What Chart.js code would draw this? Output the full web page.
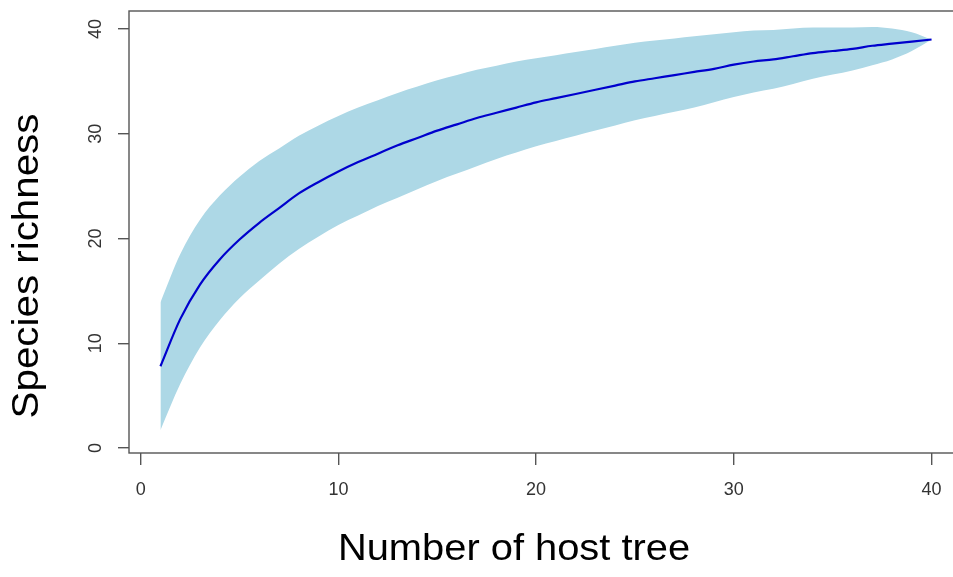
<!DOCTYPE html>
<html>
<head>
<meta charset="utf-8">
<script src="https://cdn.jsdelivr.net/npm/chart.js@4/dist/chart.umd.min.js"></script>
<style>
  html, body { margin: 0; padding: 0; background: #ffffff; overflow: hidden; }
  #wrap { width: 970px; height: 577px; }
</style>
</head>
<body>
<div id="wrap"><canvas id="c" width="970" height="577"></canvas></div>
<script>
// ---- data ----
const hostTrees = [1,2,3,4,5,6,7,8,9,10,11,12,13,14,15,16,17,18,19,20,21,22,23,24,25,26,27,28,29,30,31,32,33,34,35,36,37,38,39,40];
const meanRichness = [7.8,12.3,15.6,18.0,19.9,21.5,22.9,24.3,25.4,26.4,27.3,28.1,28.9,29.6,30.3,30.9,31.5,32.0,32.5,33.0,33.4,33.8,34.2,34.6,35.0,35.3,35.6,35.9,36.2,36.6,36.9,37.1,37.4,37.7,37.9,38.1,38.4,38.6,38.8,39.0];
const upperRichness = [13.9,18.5,21.8,24.1,25.9,27.4,28.6,29.8,30.8,31.7,32.5,33.2,33.9,34.5,35.1,35.6,36.1,36.5,36.9,37.2,37.5,37.8,38.1,38.4,38.7,38.9,39.1,39.3,39.5,39.7,39.85,39.9,40.05,40.15,40.15,40.15,40.2,40.05,39.7,39.0];
const lowerRichness = [1.7,6.1,9.6,12.2,14.3,16.0,17.6,19.0,20.2,21.3,22.2,23.1,23.9,24.7,25.5,26.2,26.9,27.6,28.2,28.8,29.3,29.8,30.3,30.8,31.3,31.7,32.1,32.5,33.0,33.5,33.95,34.3,34.75,35.25,35.65,36.05,36.55,37.1,37.9,39.0];
const xTickValues = [0,10,20,30,40];
const yTickValues = [0,10,20,30,40];
const xTitle = 'Number of host tree';
const yTitle = 'Species richness';

// ---- styles ----
const FONT = '"Liberation Sans", Arial, Helvetica, sans-serif';
const AXIS_COLOR = '#555555';
const TICK_TEXT = '#333333';

const toXY = arr => hostTrees.map((x, i) => ({ x: x, y: arr[i] }));

const framePlugin = {
  id: 'frame',
  afterDraw(chart) {
    const { ctx, chartArea: a, scales } = chart;
    const y = scales.y;
    ctx.save();
    ctx.strokeStyle = AXIS_COLOR;
    ctx.lineWidth = 1.4;
    ctx.strokeRect(a.left, a.top, a.right - a.left, a.bottom - a.top);

    // rotated y tick labels (R style)
    ctx.fillStyle = TICK_TEXT;
    ctx.font = '18px ' + FONT;
    ctx.textAlign = 'center';
    ctx.textBaseline = 'middle';
    yTickValues.forEach(v => {
      const py = y.getPixelForValue(v);
      ctx.save();
      ctx.translate(a.left - 33, py);
      ctx.rotate(-Math.PI / 2);
      ctx.fillText(String(v), 0, 0);
      ctx.restore();
    });

    // axis titles
    ctx.fillStyle = '#000000';
    ctx.font = '37px ' + FONT;
    ctx.save();
    ctx.translate(514, 550);
    ctx.scale(1.077, 1);
    ctx.fillText(xTitle, 0, 0);
    ctx.restore();
    ctx.save();
    ctx.translate(28, 266);
    ctx.rotate(-Math.PI / 2);
    ctx.scale(1.09, 1);
    ctx.fillText(yTitle, 0, 0);
    ctx.restore();
    ctx.restore();
  }
};

const lineCommon = { pointRadius: 0, cubicInterpolationMode: 'monotone' };

new Chart(document.getElementById('c'), {
  type: 'line',
  data: {
    datasets: [
      Object.assign({
        label: 'mean',
        data: toXY(meanRichness),
        borderColor: '#0000CD',
        borderWidth: 2.2,
        fill: false,
        order: 0
      }, lineCommon),
      Object.assign({
        label: 'upper',
        data: toXY(upperRichness),
        borderWidth: 0,
        borderColor: 'rgba(0,0,0,0)',
        backgroundColor: '#ADD8E6',
        fill: '+1',
        order: 1
      }, lineCommon),
      Object.assign({
        label: 'lower',
        data: toXY(lowerRichness),
        borderWidth: 0,
        borderColor: 'rgba(0,0,0,0)',
        fill: false,
        order: 2
      }, lineCommon)
    ]
  },
  options: {
    responsive: false,
    animation: false,
    devicePixelRatio: 1,
    layout: { padding: { left: 0, top: 11, right: 7, bottom: 0 } },
    plugins: {
      legend: { display: false },
      tooltip: { enabled: false },
      title: { display: false }
    },
    scales: {
      x: {
        type: 'linear',
        min: -0.59,
        max: 41.59,
        afterBuildTicks: s => { s.ticks = xTickValues.map(v => ({ value: v })); },
        afterFit: s => { s.height = 124; },
        grid: {
          display: true,
          drawOnChartArea: false,
          drawTicks: true,
          tickLength: 12,
          color: AXIS_COLOR,
          lineWidth: 1.4
        },
        border: { display: false },
        ticks: {
          color: TICK_TEXT,
          font: { family: FONT, size: 18 },
          padding: 14,
          maxRotation: 0,
          minRotation: 0,
          callback: v => String(v)
        },
        title: { display: false }
      },
      y: {
        type: 'linear',
        min: -0.48,
        max: 41.72,
        afterBuildTicks: s => { s.ticks = yTickValues.map(v => ({ value: v })); },
        afterFit: s => { s.width = 129; s.paddingTop = 0; s.paddingBottom = 0; },
        grid: {
          display: true,
          drawOnChartArea: false,
          drawTicks: true,
          tickLength: 11,
          color: AXIS_COLOR,
          lineWidth: 1.4
        },
        border: { display: false },
        ticks: {
          color: 'rgba(0,0,0,0)',
          font: { family: FONT, size: 1 },
          padding: 0,
          callback: v => String(v)
        },
        title: { display: false }
      }
    }
  },
  plugins: [framePlugin]
});
</script>
</body>
</html>
